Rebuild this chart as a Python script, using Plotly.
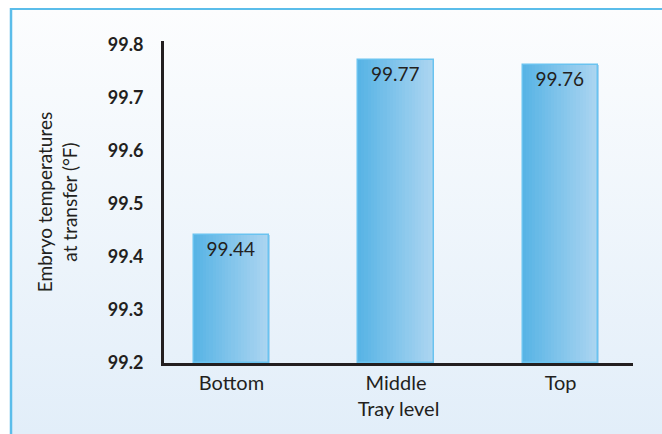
import base64
import plotly.graph_objects as go

categories = ["Bottom", "Middle", "Top"]
values = [99.44, 99.77, 99.76]
value_labels = ["99.44", "99.77", "99.76"]
y_ticks = [99.2, 99.3, 99.4, 99.5, 99.6, 99.7, 99.8]

W, H = 662, 434
ML, MR, MT, MB = 164, 29, 41, 71
PW, PH = W - ML - MR, H - MT - MB

ink = "#231f20"
font_family = "Lato, 'Open Sans', sans-serif"

fig = go.Figure()

# gradient bars built from thin slices
bar_w = 0.46
n_slices = 24
c0 = (88, 180, 229)
c1 = (172, 213, 241)
for i in range(n_slices):
    t = i / (n_slices - 1)
    col = "rgb(%d,%d,%d)" % tuple(round(c0[k] + (c1[k] - c0[k]) * t) for k in range(3))
    fig.add_trace(go.Bar(
        x=list(range(len(categories))), y=[v - 99.2 for v in values], base=99.2,
        width=bar_w / n_slices + 0.002, offset=-bar_w / 2 + i * bar_w / n_slices,
        marker=dict(color=col, line=dict(width=0)),
        hoverinfo="skip", showlegend=False,
    ))

fig.add_trace(go.Bar(
    x=list(range(len(categories))), y=[v - 99.2 for v in values], base=99.2,
    width=bar_w, offset=-bar_w / 2,
    marker=dict(color="rgba(0,0,0,0)", line=dict(color="#6ac3f0", width=1.5)),
    text=value_labels, textposition="inside", insidetextanchor="end",
    textfont=dict(family=font_family, size=19, color=ink),
    textangle=0, constraintext="none", showlegend=False,
))

svg = f'''<svg xmlns="http://www.w3.org/2000/svg" width="{W}" height="{H}" viewBox="0 0 {W} {H}">
<defs><linearGradient id="g" x1="0" y1="0" x2="0" y2="1">
<stop offset="0" stop-color="#fcfdfe"/><stop offset="1" stop-color="#e2eef9"/></linearGradient></defs>
<rect x="0" y="0" width="{W}" height="{H}" fill="#ffffff"/>
<rect x="11" y="9" width="{W-11}" height="{H-9}" fill="url(#g)"/>
<line x1="10" y1="9" x2="{W}" y2="9" stroke="#5bbdea" stroke-width="2"/>
<line x1="11" y1="8" x2="11" y2="{H}" stroke="#5bbdea" stroke-width="2.5"/>
</svg>'''
src = "data:image/svg+xml;base64," + base64.b64encode(svg.encode()).decode()

fig.update_layout(
    width=W, height=H,
    margin=dict(l=ML, r=MR, t=MT, b=MB, pad=0),
    paper_bgcolor="white", plot_bgcolor="white",
    barmode="overlay", bargap=0,
    font=dict(family=font_family, color=ink),
    images=[dict(source=src, xref="paper", yref="paper",
                 x=-ML / PW, y=1 + MT / PH, sizex=W / PW, sizey=H / PH,
                 xanchor="left", yanchor="top", sizing="stretch", layer="below")],
    xaxis=dict(
        tickvals=list(range(len(categories))), ticktext=categories,
        range=[-0.41, 2.44], showgrid=False, zeroline=False,
        showline=True, linecolor=ink, linewidth=3, ticks="",
        tickfont=dict(size=20, color=ink), ticklabelstandoff=0,
        title=dict(text="Tray level", font=dict(size=20, color=ink), standoff=9),
    ),
    yaxis=dict(
        range=[99.2, 99.806], tickvals=y_ticks, ticktext=[f"{v:.1f}" for v in y_ticks],
        showgrid=False, zeroline=False, showline=True, linecolor=ink, linewidth=3,
        ticks="", ticklabelstandoff=14,
        tickfont=dict(size=18, color=ink, weight="bold"),
        title=dict(text="Embryo temperatures<br>at transfer (°F)", font=dict(size=19, color=ink), standoff=26),
    ),
)

fig.write_html("out.html")
